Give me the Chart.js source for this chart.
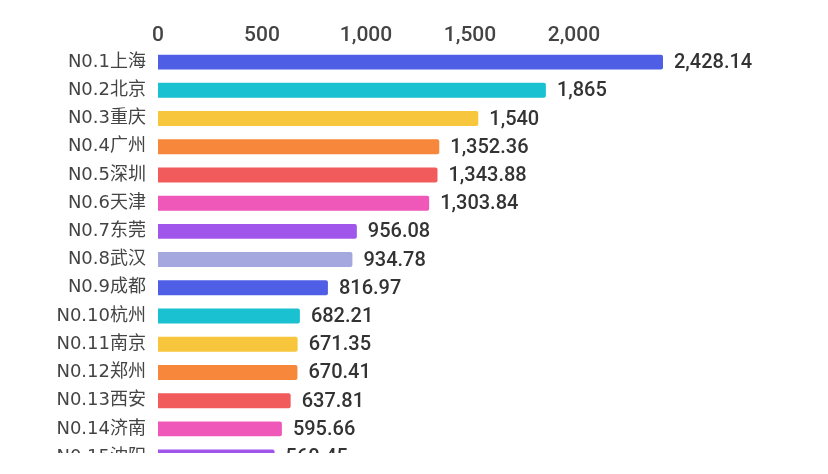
<!DOCTYPE html>
<html lang="zh">
<head>
  <meta charset="UTF-8">
  <title>城市排名</title>
  <script src="https://cdn.jsdelivr.net/npm/chart.js"></script>
  <style>
    html, body { margin: 0; padding: 0; background: #fff; overflow: hidden; }
    #wrap { width: 828px; height: 453px; overflow: hidden; }
  </style>
</head>
<body>
<div id="wrap">
  <canvas id="rankChart" width="828" height="494"></canvas>
</div>

<script>
  // data
  const cities = ['上海', '北京', '重庆', '广州', '深圳', '天津', '东莞', '武汉',
                  '成都', '杭州', '南京', '郑州', '西安', '济南', '沈阳'];
  const values = [2428.14, 1865, 1540, 1352.36, 1343.88, 1303.84, 956.08, 934.78,
                  816.97, 682.21, 671.35, 670.41, 637.81, 595.66, 560.45];
  const valueText = ['2,428.14', '1,865', '1,540', '1,352.36', '1,343.88', '1,303.84', '956.08', '934.78',
                     '816.97', '682.21', '671.35', '670.41', '637.81', '595.66', '560.45'];
  const xTicks = [0, 500, 1000, 1500, 2000];
  const palette = ['#4f5fe5', '#19c1d1', '#f8c63c', '#f7873a', '#f15b5b', '#ef58b9', '#a055eb', '#a5a8de'];

  const labels = cities.map((c, i) => 'N0.' + (i + 1) + c);
  const colors = values.map((v, i) => palette[i % palette.length]);

  // draws the number after each bar
  const valueLabels = {
    id: 'valueLabels',
    afterDatasetsDraw(chart) {
      const ctx = chart.ctx;
      const meta = chart.getDatasetMeta(0);
      ctx.save();
      ctx.font = '500 20px Roboto, "DejaVu Sans", sans-serif';
      ctx.fillStyle = '#333';
      ctx.textAlign = 'left';
      ctx.textBaseline = 'middle';
      meta.data.forEach((bar, i) => {
        ctx.fillText(valueText[i], bar.x + 11, bar.y + 1);
      });
      ctx.restore();
    }
  };

  const ctx = document.getElementById('rankChart').getContext('2d');
  const rankChart = new Chart(ctx, {
    type: 'bar',
    data: {
      labels: labels,
      datasets: [{
        data: values,
        backgroundColor: colors,
        borderWidth: 0,
        borderRadius: 2,
        barPercentage: 0.53,
        categoryPercentage: 1
      }]
    },
    options: {
      indexAxis: 'y',
      responsive: false,
      animation: false,
      layout: { padding: { left: 30, right: 165, top: 14, bottom: 4 } },
      plugins: { legend: { display: false }, tooltip: { enabled: false } },
      scales: {
        x: {
          position: 'top',
          min: 0,
          max: Math.max(...values),
          grid: { display: false, drawTicks: false },
          border: { display: false },
          ticks: {
            autoSkip: false,
            maxRotation: 0,
            padding: 0,
            color: '#444',
            font: { family: 'Roboto, "Noto Sans", sans-serif', size: 21, weight: 500 },
            callback: v => v.toLocaleString('en-US')
          },
          // only the round ticks, no tick at the data max
          afterBuildTicks: s => { s.ticks = xTicks.map(v => ({ value: v })); },
          afterFit: s => { s.height = 34; }
        },
        y: {
          grid: { display: false, drawTicks: false },
          border: { display: false },
          ticks: {
            padding: 12,
            color: '#444',
            font: { family: '"DejaVu Sans", "Noto Sans CJK SC", sans-serif', size: 18 }
          },
          afterFit: s => { s.width = 128; }
        }
      }
    },
    plugins: [valueLabels]
  });
</script>
</body>
</html>
